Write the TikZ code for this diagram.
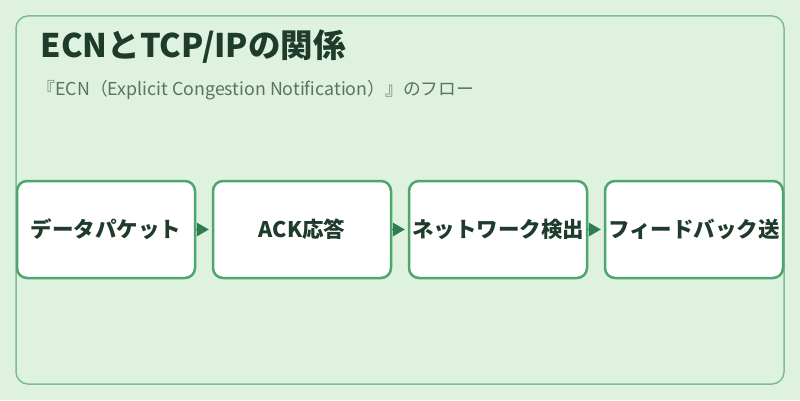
\documentclass[tikz,border=0pt]{standalone}
\usepackage{fontspec}
\setmainfont{Noto Sans CJK JP}
\usetikzlibrary{arrows.meta}
\definecolor{bggreen}{HTML}{DFF2DF}
\definecolor{frameline}{HTML}{7FBF8F}
\definecolor{boxline}{HTML}{4CA66E}
\definecolor{flowarrow}{HTML}{2E7D4F}
\definecolor{titletext}{HTML}{1E3B2C}
\definecolor{subtext}{HTML}{5B7363}
\tikzset{
  >={Triangle[length=12pt,width=14pt]},
  {frame/.style} ={draw=frameline, line width=1.5pt, rounded corners=12pt},
  {stage/.style} ={draw=boxline, fill=white, line width=2.5pt,
                   rounded corners=10pt, inner sep=0,
                   minimum width=178pt, minimum height=97pt,
                   font=\fontsize{21.5}{25}\selectfont\bfseries, text=titletext},
  {flow/.style} ={->, flowarrow, line width=0pt, shorten <=2pt, shorten >=3pt},
}
\begin{document}
\begin{tikzpicture}[x=1pt,y=1pt]
\fill[bggreen] (0,0) rectangle (800,400);
\useasboundingbox (0,0) rectangle (800,400);
\draw[frame] (16,16) rectangle (784,384);
\node[anchor=base west, text=titletext, font=\fontsize{32.5}{38}\selectfont\bfseries]
  (title) at (37,343) {ECNとTCP/IPの関係};
\node[anchor=base west, text=subtext, font=\fontsize{17.8}{21}\selectfont]
  (sub) at (34,305) {『ECN（Explicit Congestion Notification）』のフロー};
\node[stage] (data) at (106,170.5) {データパケット};
\node[stage] (ack) at (302,170.5) {ACK応答};
\node[stage] (detect) at (498,170.5) {ネットワーク検出};
\node[stage] (feedback) at (694,170.5) {フィードバック送};
\path[flow] (data) edge (ack);
\path[flow] (ack) edge (detect);
\path[flow] (detect) edge (feedback);
\end{tikzpicture}
\end{document}
